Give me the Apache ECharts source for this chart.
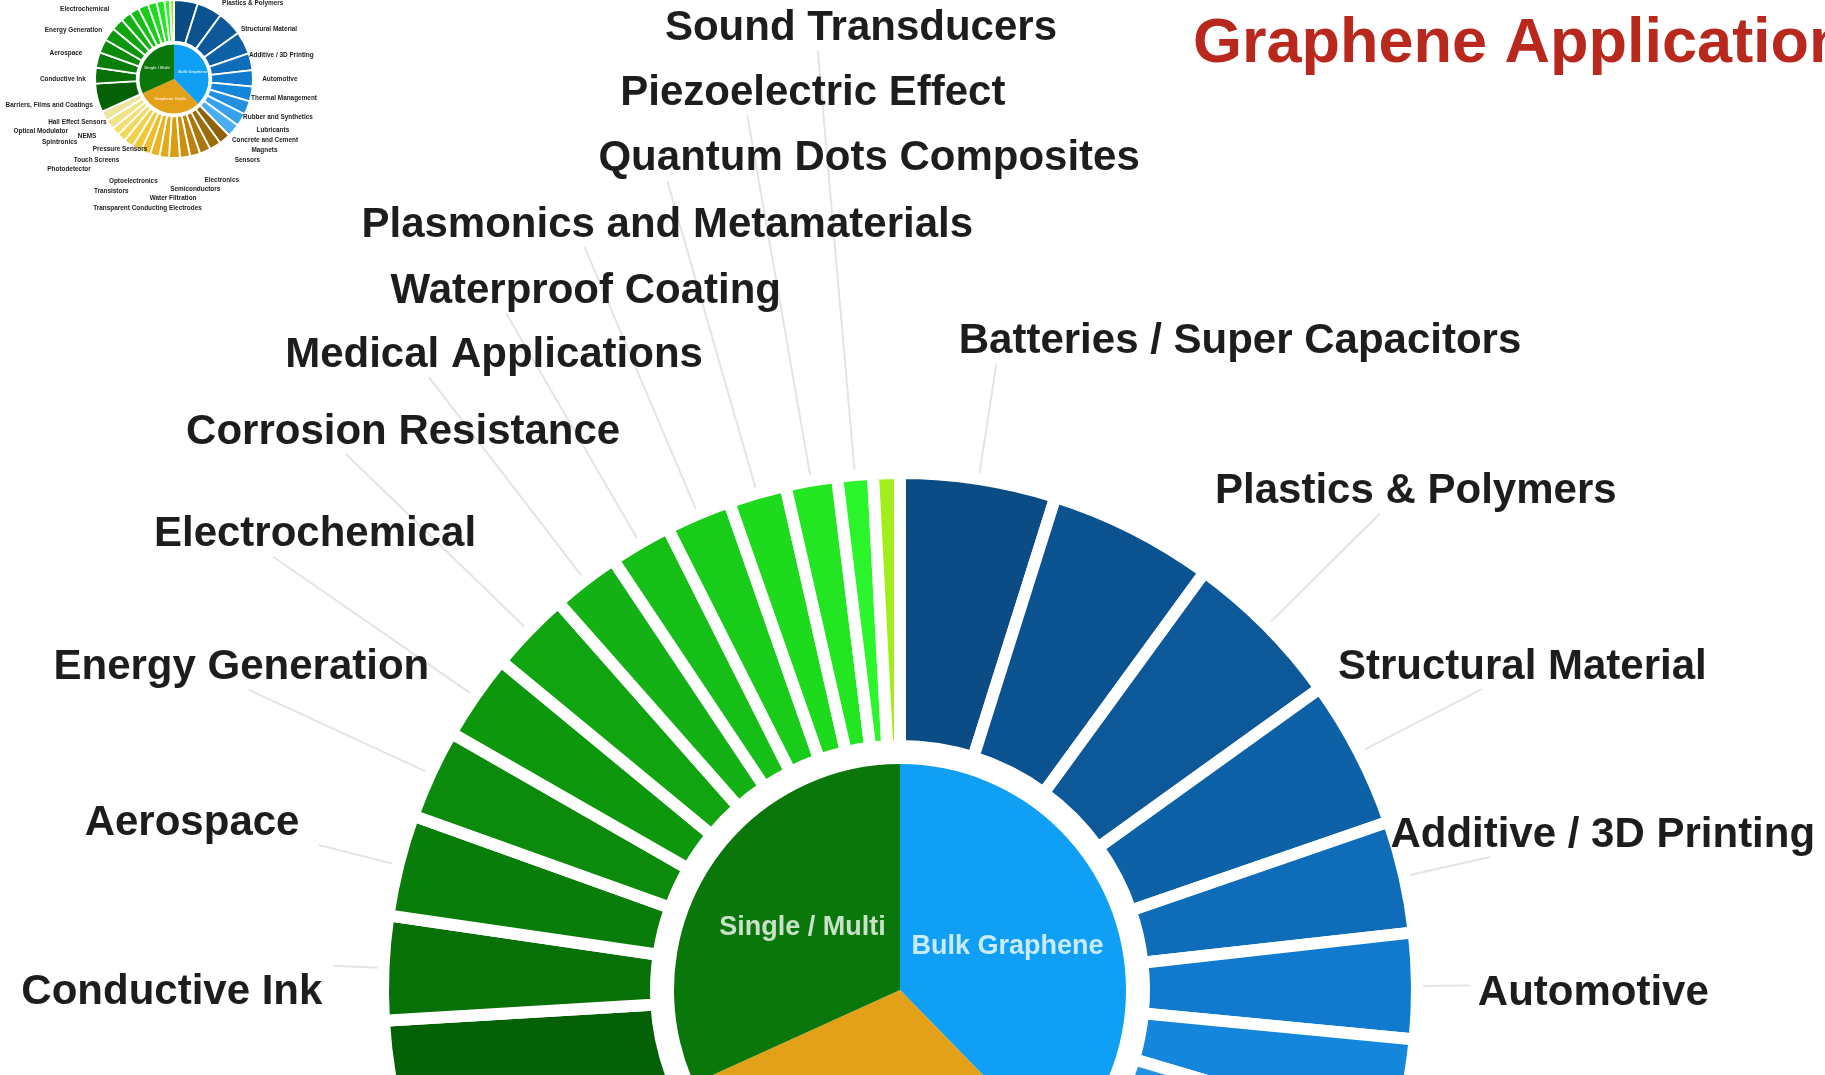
<!DOCTYPE html>
<html>
<head>
<meta charset="utf-8">
<title>Graphene Applications</title>
<script src="https://cdn.jsdelivr.net/npm/echarts@6/dist/echarts.min.js"></script>
<style>
  html, body { margin: 0; padding: 0; background: #ffffff; }
  #chart { width: 1825px; height: 1075px; }
</style>
</head>
<body>
<div id="chart"></div>
<script>
// Material families (inner ring), clockwise from 12 o'clock.
const families = ['Bulk Graphene', 'Graphene Oxide', 'Single / Multi'];

// Applications of each family (outer ring), clockwise, with their relative shares.
const bulkApps = ['Batteries / Super Capacitors', 'Coatings & Paints', 'Plastics & Polymers',
  'Structural Material', 'Additive / 3D Printing', 'Automotive', 'Thermal Management',
  'Rubber and Synthetics', 'Lubricants', 'Concrete and Cement'];
const bulkShares = [17.5, 18.6, 18.2, 16.7, 12.6, 11.9, 11, 10, 9.5, 9.7];

const oxideApps = ['Magnets', 'Sensors', 'Electronics', 'Semiconductors', 'Water Filtration',
  'Transparent Conducting Electrodes', 'Transistors', 'Optoelectronics', 'Photodetector',
  'Touch Screens', 'Pressure Sensors', 'Spintronics', 'NEMS', 'Optical Modulator',
  'Hall Effect Sensors'];
const oxideShares = [8.5, 8.5, 8, 7.5, 7.5, 8, 7, 7, 7, 7, 7, 6.5, 6, 7, 7.4];

const layerApps = ['Barriers, Films and Coatings', 'Conductive Ink', 'Aerospace',
  'Energy Generation', 'Electrochemical', 'Corrosion Resistance', 'Medical Applications',
  'Waterproof Coating', 'Plasmonics and Metamaterials', 'Quantum Dots Composites',
  'Piezoelectric Effect', 'Sound Transducers', 'Hydrogen Storage'];
const layerShares = [21, 11.7, 11.4, 10.1, 9.7, 9.1, 7.7, 7.0, 7.4, 6.5, 5.8, 4.0, 3.0];

// Palettes.
const familyColors = ['#0fa0f5', '#e3a11a', '#0a770a'];
const bulkColors = ['#0b4c85', '#0b5290', '#0c5899', '#0d61a7', '#0e6cb8', '#0f7ace',
  '#1486db', '#2291e2', '#35a0ec', '#4aaef2'];
const oxideColors = ['#8e6208', '#9c6c09', '#ab770b', '#bb830d', '#cc900f', '#da9d12',
  '#e3a918', '#e9b420', '#eebf2a', '#f1c936', '#f3d146', '#f4d859', '#f4de6e', '#f1e285',
  '#ece59e'];
const layerColors = ['#056105', '#077107', '#097d09', '#0b8a0b', '#0d970d', '#10a410',
  '#13b113', '#16bf16', '#19cc19', '#1dda1d', '#21e621', '#2bf52b', '#a2ee1c'];

// Callouts, in full-size wheel units: [leader length past the ring, where the leader meets
// the caption (fraction of its width), lift of the caption centre above the leader end].
// Slices missing from this table carry no caption.
const callouts = {
  'Sound Transducers': [426, 0.39, 22],
  'Piezoelectric Effect': [371, 0.33, 22],
  'Quantum Dots Composites': [325, 0.127, 22],
  'Plasmonics and Metamaterials': [290, 0.365, 22],
  'Waterproof Coating': [266, 0.296, 22],
  'Medical Applications': [256, 0.344, 22],
  'Corrosion Resistance': [254, 0.368, 22],
  'Electrochemical': [245, 0.37, 22],
  'Energy Generation': [200, 0.52, 22],
  'Aerospace': [82, 1.09, 22],
  'Conductive Ink': [50, 1.037, -27],
  'Barriers, Films and Coatings': [116, 0.856, -22],
  'Batteries / Super Capacitors': [117, 0.067, 22],
  'Plastics & Polymers': [159, 0.41, 22],
  'Structural Material': [138, 0.39, 22],
  'Additive / 3D Printing': [88, 0.235, 22],
  'Automotive': [53, -0.034, -7.5],
  'Thermal Management': [44, 0.106, -22],
  'Rubber and Synthetics': [109, 0.284, -22],
  'Lubricants': [86, -0.115, -22],
  'Concrete and Cement': [61, 0.134, -22],
  'Magnets': [60, -0.8, -22],
  'Sensors': [85, -0.5, -22],
  'Electronics': [182, 0.34, -22],
  'Semiconductors': [210, 0.67, -22],
  'Water Filtration': [249, 0.87, -22],
  'Transparent Conducting Electrodes': [306, 0.75, -22],
  'Transistors': [202, 1.92, -22],
  'Optoelectronics': [152, 0.82, -22],
  'Photodetector': [95, 2.14, -22],
  'Touch Screens': [65, 1.28, -22],
  'Pressure Sensors': [17, 0.627, -22],
  'Spintronics': [9, 2.22, -22],
  'NEMS': [11, 1.95, -22],
  'Optical Modulator': [37, 1.68, -22],
  'Hall Effect Sensors': [39, 0.873, -22]
};

const FONT = '"Liberation Sans", Arial, Helvetica, sans-serif';

// Full-size wheel geometry; the overview in the corner is the same wheel shrunk.
const WHEEL = { pie: 226, ring0: 244, ring1: 517, gap: 12, caption: 42, core: 27 };
const MAIN = { cx: 900, cy: 990, scale: 1 };
const OVERVIEW = { cx: 174, cy: 79, scale: 1 / 6.55 };

const sum = a => a.reduce((s, v) => s + v, 0);
const familyTotals = [sum(bulkShares), sum(oxideShares), sum(layerShares)];

function ringItems(k) {
  const out = [];
  const groups = [[bulkApps, bulkShares, bulkColors], [oxideApps, oxideShares, oxideColors],
    [layerApps, layerShares, layerColors]];
  groups.forEach(([names, vals, cols]) => {
    names.forEach((n, i) => {
      const item = { name: n, value: vals[i], itemStyle: { color: cols[i] } };
      const c = callouts[n];
      if (c) {
        item.label = { show: true };
        item.labelLine = { length: c[0] * k };
      } else {
        item.label = { show: false };
        item.labelLine = { show: false };
      }
      out.push(item);
    });
  });
  return out;
}

function familyItems() {
  return families.map((n, i) => ({ name: n, value: familyTotals[i], itemStyle: { color: familyColors[i] } }));
}

function placeCaptions(items, k) {
  return function (p) {
    const item = items[p.dataIndex];
    const c = item && callouts[item.name];
    if (!c || !p.labelLinePoints) return {};
    const start = p.labelLinePoints[0];
    const end = p.labelLinePoints[1];
    return {
      x: end[0] - c[1] * p.labelRect.width,
      y: end[1] - c[2] * k,
      align: 'left',
      verticalAlign: 'middle',
      labelLinePoints: [start, end, end]
    };
  };
}

function wheel(at, showLeaders) {
  const k = at.scale;
  const items = ringItems(k);
  return [
    {
      type: 'pie',
      center: [at.cx, at.cy],
      radius: [0, WHEEL.pie * k],
      startAngle: 90,
      clockwise: true,
      silent: true,
      label: {
        show: true,
        position: 'inside',
        fontSize: WHEEL.core * k,
        fontWeight: 'bold',
        fontFamily: FONT,
        color: 'rgba(255,255,255,0.78)'
      },
      labelLine: { show: false },
      data: familyItems()
    },
    {
      type: 'pie',
      center: [at.cx, at.cy],
      radius: [WHEEL.ring0 * k, WHEEL.ring1 * k],
      startAngle: 90,
      clockwise: true,
      silent: true,
      avoidLabelOverlap: false,
      itemStyle: { borderColor: '#ffffff', borderWidth: WHEEL.gap * k },
      label: {
        position: 'outside',
        fontSize: WHEEL.caption * k,
        fontWeight: 'bold',
        fontFamily: FONT,
        color: '#1d1d1d'
      },
      labelLine: {
        show: showLeaders,
        length2: 1,
        smooth: false,
        lineStyle: { color: '#e4e4e4', width: 2 * k }
      },
      labelLayout: placeCaptions(items, k),
      data: items
    }
  ];
}

const chart = echarts.init(document.getElementById('chart'), null, { renderer: 'canvas' });

chart.setOption({
  animation: false,
  backgroundColor: '#ffffff',
  title: {
    text: 'Graphene Applications',
    left: 1193,
    top: 13,
    padding: 0,
    textStyle: { fontSize: 63, fontWeight: 'bold', color: '#b8281d', fontFamily: FONT }
  },
  series: [].concat(wheel(MAIN, true), wheel(OVERVIEW, false))
});
</script>
</body>
</html>
